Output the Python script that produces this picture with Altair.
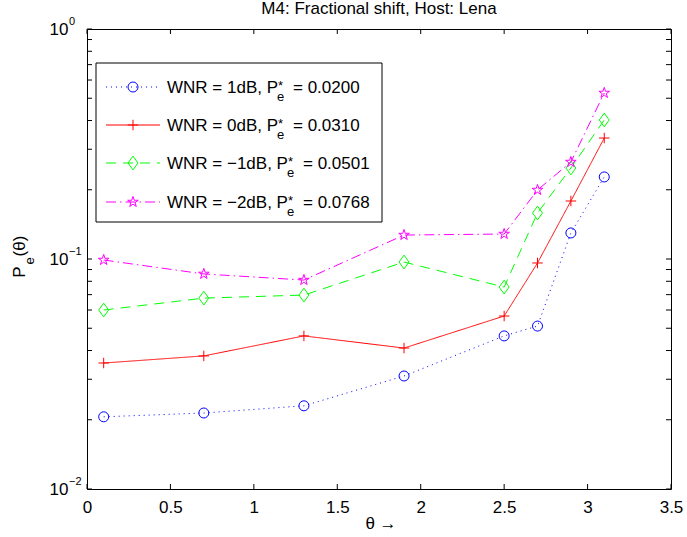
import altair as alt
import pandas as pd

# ---------------- data ----------------
theta = [0.1, 0.7, 1.3, 1.9, 2.5, 2.7, 2.9, 3.1]
pe_1db = [0.0206, 0.0214, 0.0230, 0.0310, 0.0463, 0.0511, 0.1298, 0.2274]
pe_0db = [0.0353, 0.0379, 0.0463, 0.0410, 0.0565, 0.0961, 0.1787, 0.3357]
pe_m1db = [0.0600, 0.0676, 0.0697, 0.0970, 0.0755, 0.1585, 0.2487, 0.4022]
pe_m2db = [0.0990, 0.0861, 0.0810, 0.1271, 0.1284, 0.1995, 0.2640, 0.5270]

series_wnr = ["1dB", "0dB", "\u22121dB", "\u22122dB"]
series_pstar = ["0.0200", "0.0310", "0.0501", "0.0768"]
series_values = [pe_1db, pe_0db, pe_m1db, pe_m2db]
series_colors = ["#0000FF", "#FF0000", "#00FF00", "#FF00FF"]

x_ticks = [0, 0.5, 1, 1.5, 2, 2.5, 3, 3.5]
y_major = [0.01, 0.1, 1]
y_exponents = ["\u22122", "\u22121", "0"]
y_minor_mult = [2, 3, 4, 5, 6, 7, 8, 9]

title_text = "M4: Fractional shift, Host: Lena"
xlabel_text = "\u03b8 \u2192"

# ---------------- styling ----------------
FONT = "Liberation Sans"
FS = 17
W, H = 584, 460

CIRCLE = "circle"
PLUS = "M-1,0L1,0M0,-1L0,1"
DIAMOND = "M0,-1L0.72,0L0,1L-0.72,0Z"
STAR = ("M0,-1L0.225,-0.309L0.951,-0.309L0.363,0.118L0.588,0.809L0,0.382"
        "L-0.588,0.809L-0.363,0.118L-0.951,-0.309L-0.225,-0.309Z")
shapes = [CIRCLE, PLUS, DIAMOND, STAR]
sizes = [100, 110, 190, 125]
dashes = [[1, 4], [1, 0], [10, 7], [10, 4, 1.5, 4]]

xscale = alt.Scale(domain=[0, 3.5], nice=False, zero=False)
yscale = alt.Scale(type="log", domain=[0.01, 1], nice=False)


def xenc(field="theta"):
    return alt.X(f"{field}:Q", scale=xscale,
                 axis=alt.Axis(values=x_ticks, labelExpr="'' + datum.value",
                               title=None, labelPadding=10, labelFlush=False))


def yenc(field="pe"):
    return alt.Y(f"{field}:Q", scale=yscale,
                 axis=alt.Axis(values=y_major, labelExpr="'10'", title=None,
                               labelPadding=19, labelBaseline="middle"))


layers = []

# inward tick marks
xt = pd.DataFrame({"theta": x_ticks})
layers.append(alt.Chart(xt).mark_rule(color="black", strokeWidth=1).encode(
    x=xenc(), y=alt.value(H), y2=alt.value(H - 5)))
layers.append(alt.Chart(xt).mark_rule(color="black", strokeWidth=1).encode(
    x=xenc(), y=alt.value(0), y2=alt.value(5)))
y_all = [m * d for d in [0.01, 0.1] for m in [1] + y_minor_mult] + [1]
yt = pd.DataFrame({"pe": y_all})
layers.append(alt.Chart(yt).mark_rule(color="black", strokeWidth=1).encode(
    y=yenc(), x=alt.value(0), x2=alt.value(5)))
layers.append(alt.Chart(yt).mark_rule(color="black", strokeWidth=1).encode(
    y=yenc(), x=alt.value(W), x2=alt.value(W - 5)))

# exponents of y labels
ye = pd.DataFrame({"pe": y_major, "exp": y_exponents})
layers.append(alt.Chart(ye).mark_text(font=FONT, fontSize=11, align="left",
                                      baseline="middle", dy=-7, color="black").encode(
    y=yenc(), x=alt.value(-18), text="exp:N"))

# data series
for i in range(4):
    df = pd.DataFrame({"theta": theta, "pe": series_values[i]})
    layers.append(alt.Chart(df).mark_line(color=series_colors[i], strokeWidth=1,
                                          strokeDash=dashes[i]).encode(
        x=xenc(), y=yenc()))
    layers.append(alt.Chart(df).mark_point(shape=shapes[i], size=sizes[i], filled=False,
                                           color=series_colors[i], strokeWidth=1,
                                           opacity=1).encode(
        x=xenc(), y=yenc()))

# legend box
one = pd.DataFrame({"k": [0]})
layers.append(alt.Chart(one).mark_rect(fill="white", stroke="black", strokeWidth=1).encode(
    x=alt.value(9), x2=alt.value(295), y=alt.value(34), y2=alt.value(193)))

row_y = [58, 96, 134, 173]
sub_x = [190, 190, 200, 200]
suf_x = [206, 206, 216, 216]
for i in range(4):
    ry = row_y[i]
    layers.append(alt.Chart(one).mark_rule(color=series_colors[i], strokeWidth=1,
                                           strokeDash=dashes[i]).encode(
        x=alt.value(19), x2=alt.value(73), y=alt.value(ry)))
    layers.append(alt.Chart(one).mark_point(shape=shapes[i], size=sizes[i], filled=False,
                                            color=series_colors[i], strokeWidth=1,
                                            opacity=1).encode(
        x=alt.value(46), y=alt.value(ry)))
    layers.append(alt.Chart(one).mark_text(
        text=f"WNR = {series_wnr[i]}, P", font=FONT, fontSize=FS, align="left",
        baseline="alphabetic", color="black").encode(x=alt.value(80), y=alt.value(ry + 6)))
    layers.append(alt.Chart(one).mark_text(
        text="e", font=FONT, fontSize=13, align="left",
        baseline="alphabetic", color="black").encode(x=alt.value(sub_x[i]), y=alt.value(ry + 14)))
    layers.append(alt.Chart(one).mark_text(
        text="*", font=FONT, fontSize=13, align="left",
        baseline="alphabetic", color="black").encode(x=alt.value(sub_x[i] + 1), y=alt.value(ry + 3)))
    layers.append(alt.Chart(one).mark_text(
        text=f"= {series_pstar[i]}", font=FONT, fontSize=FS, align="left",
        baseline="alphabetic", color="black").encode(x=alt.value(suf_x[i]), y=alt.value(ry + 6)))

# title, x label, y label
layers.append(alt.Chart(one).mark_text(text=title_text, font=FONT, fontSize=FS,
                                       align="center", baseline="alphabetic",
                                       color="black").encode(
    x=alt.value(W / 2), y=alt.value(-15)))
layers.append(alt.Chart(one).mark_text(text=xlabel_text, font=FONT, fontSize=FS,
                                       align="center", baseline="alphabetic",
                                       color="black").encode(
    x=alt.value(W / 2 + 2), y=alt.value(H + 40)))
layers.append(alt.Chart(one).mark_text(text="P", font=FONT, fontSize=FS, angle=270,
                                       align="center", baseline="middle",
                                       color="black").encode(
    x=alt.value(-67), y=alt.value(243)))
layers.append(alt.Chart(one).mark_text(text="e", font=FONT, fontSize=13, angle=270,
                                       align="center", baseline="middle",
                                       color="black").encode(
    x=alt.value(-57), y=alt.value(232)))
layers.append(alt.Chart(one).mark_text(text="(\u03b8)", font=FONT, fontSize=FS, angle=270,
                                       align="center", baseline="middle",
                                       color="black").encode(
    x=alt.value(-67), y=alt.value(217)))

chart = alt.layer(*layers).properties(
    width=W, height=H,
    padding={"left": 87, "top": 29, "right": 16, "bottom": 48},
    autosize=alt.AutoSizeParams(type="none"),
).configure_view(stroke="black", strokeWidth=1).configure_axis(
    domain=False, ticks=False, tickSize=0, grid=False, labelFont=FONT,
    labelFontSize=FS, labelColor="black",
)

chart.save("out.html", embed_options={"renderer": "svg", "actions": False})
